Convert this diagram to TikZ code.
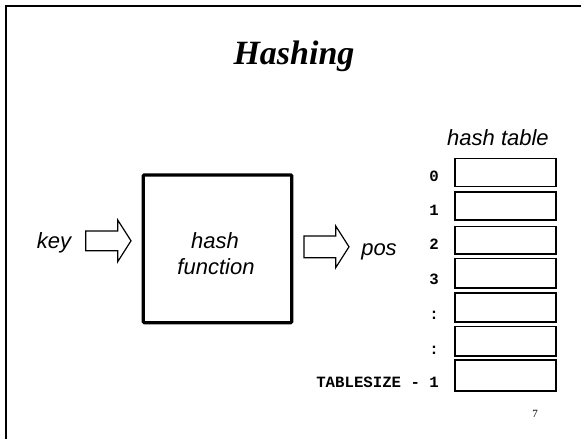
\documentclass[tikz,border=0pt]{standalone}
\usepackage{fontspec}
\setmainfont{Liberation Serif}
\newfontfamily\arialfont{Liberation Sans}
\newfontfamily\courfont{Liberation Mono}
\begin{document}
\begin{tikzpicture}[x=1pt,y=-1pt,
  lbl/.style={inner sep=0pt,font=\arialfont\itshape\fontsize{22}{24}\selectfont},
  idx/.style={inner sep=0pt,anchor=base east,font=\courfont\bfseries\fontsize{15.7}{17}\selectfont},
  cell/.style={draw=black,line width=1.7pt},
  blockarrow/.style={draw=black,line width=1.2pt,line join=miter,fill=white}]
\useasboundingbox (0,0) rectangle (581,439);
% frame
\draw[line width=2pt] (6,440) -- (6,6) -- (582,6);
% title
\node[inner sep=0pt,anchor=base,font=\bfseries\itshape\fontsize{34}{36}\selectfont] (title) at (294,64) {Hashing};
% key
\node[lbl,anchor=base] (key) at (54,248.3) {key};
\draw[blockarrow] (85.7,231) -- (117.7,231) -- (117.7,220) -- (131,240.8) -- (117.7,261.7) -- (117.7,250.7) -- (85.7,250.7) -- cycle;
% hash function box
\draw[line width=3.3pt,rounded corners=1pt] (143.3,175) rectangle (291.7,322.7);
\node[lbl,anchor=base] (hash) at (215,248.3) {hash};
\node[lbl,anchor=base] (func) at (216,274) {function};
% pos
\draw[blockarrow] (304,236) -- (335.7,236) -- (335.7,226) -- (349,246.8) -- (335.7,267.7) -- (335.7,257.7) -- (304,257.7) -- cycle;
\node[lbl,anchor=base] (pos) at (379,255) {pos};
% hash table
\node[lbl,anchor=base] (httitle) at (498,145.7) {hash table};
\draw[cell] (454.85,158.55) rectangle (555.85,186.45);
\draw[cell] (454.85,192.15) rectangle (555.85,219.85);
\draw[cell] (454.85,226.35) rectangle (555.85,254.15);
\draw[cell] (454.85,258.35) rectangle (555.85,288.15);
\draw[cell] (454.85,292.85) rectangle (555.85,322.15);
\draw[cell] (454.85,326.35) rectangle (555.85,356.15);
\draw[cell] (454.85,360.15) rectangle (555.85,390.85);
\node[idx] (i0) at (439,181.7) {0};
\node[idx] (i1) at (439,215.7) {1};
\node[idx] (i2) at (439,249.7) {2};
\node[idx] (i3) at (439,284) {3};
\node[idx] (i4) at (439,319.5) {:};
\node[idx] (i5) at (439,354) {:};
\node[idx] (i6) at (439,387.3) {TABLESIZE - 1};
% page number
\node[inner sep=0pt,anchor=base,font=\fontsize{11}{12}\selectfont] (pg) at (535,417.7) {7};
\end{tikzpicture}
\end{document}
